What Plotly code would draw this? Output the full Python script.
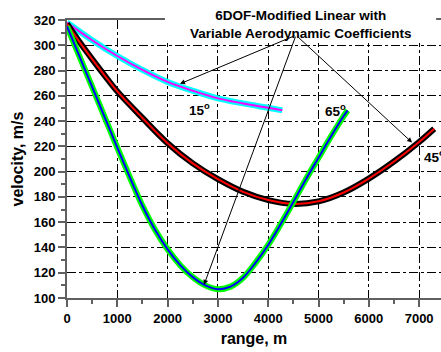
import plotly.graph_objects as go

# 15 degree
x15 = [0, 500, 1000, 1500, 2000, 2500, 3000, 3500, 4000, 4280]
v15 = [318, 304, 291.5, 280.5, 271, 264, 258, 254, 250.5, 248.5]
# 45 degree
x45 = [0, 250, 500, 750, 1000, 1500, 2000, 2500, 3000, 3500, 4000, 4500, 5000, 5500, 6000, 6500, 7000, 7300]
v45 = [317, 302.5, 289, 276, 263.5, 242.5, 222.5, 206.5, 194, 184, 177.5, 174.5, 176.5, 183.5, 194.5, 208, 223.5, 234]
# 65 degree
x65 = [0, 250, 500, 750, 1000, 1250, 1500, 1750, 2000, 2250, 2500, 2750, 3000,
       3250, 3500, 3750, 4000, 4250, 4500, 4750, 5000, 5250, 5500, 5580]
v65 = [315, 291, 267, 243, 219, 195.5, 173, 154, 138.5, 126, 116.5, 110, 107,
       109, 116, 128, 142, 158.5, 176, 194, 211, 228, 244, 248.5]

xticks = [0, 1000, 2000, 3000, 4000, 5000, 6000, 7000]
yticks = [100, 120, 140, 160, 180, 200, 220, 240, 260, 280, 300, 320]

FONT = "Liberation Sans, Arial, sans-serif"

fig = go.Figure()
for xs, vs, outer, inner in [(x15, v15, "#00FFFF", "#FF00FF"),
                             (x45, v45, "#000000", "#FF0000"),
                             (x65, v65, "#00FF00", "#0000FF")]:
    fig.add_trace(go.Scatter(x=xs, y=vs, mode="lines",
                             line=dict(color=outer, width=6, shape="spline", smoothing=1),
                             showlegend=False, hoverinfo="skip"))
    fig.add_trace(go.Scatter(x=xs, y=vs, mode="lines",
                             line=dict(color=inner, width=2, shape="spline", smoothing=1),
                             showlegend=False, hoverinfo="skip"))

axis_common = dict(showgrid=True, gridcolor="black", griddash="dashdot", gridwidth=1,
                   zeroline=False, showline=True, linecolor="#606060", linewidth=2,
                   ticks="outside", ticklen=7, tickwidth=2, tickcolor="#606060",
                   tickfont=dict(family=FONT, size=13, color="black", weight="bold"))

fig.update_xaxes(range=[0, 7435], tickvals=xticks, ticktext=[str(t) for t in xticks],
                 minor=dict(dtick=500, ticks="outside", ticklen=4, tickwidth=2, tickcolor="#606060", showgrid=False),
                 mirror=True,
                 title=dict(text="range, m", font=dict(family=FONT, size=16, color="black", weight="bold"),
                            standoff=8),
                 **axis_common)
fig.update_yaxes(range=[100, 320], tickvals=yticks, ticktext=[str(t) for t in yticks],
                 minor=dict(dtick=10, ticks="outside", ticklen=4, tickwidth=2, tickcolor="#606060", showgrid=False),
                 mirror=False,
                 title=dict(text="velocity, m/s", font=dict(family=FONT, size=16, color="black", weight="bold"),
                            standoff=6),
                 **axis_common)

# white box behind title text
fig.add_shape(type="rect", xref="paper", yref="paper", x0=0.262, x1=0.987, y0=0.917, y1=1.1,
              fillcolor="white", line=dict(width=0), layer="above")

fig.add_annotation(xref="paper", yref="paper", x=0.626, y=0.9856, xanchor="center", yanchor="middle",
                   text="6DOF-Modified Linear with<br>Variable Aerodynamic Coefficients", showarrow=False,
                   font=dict(family=FONT, size=13.5, color="black", weight="bold"))

apex = (4553, 308)
for tx, ty in [(2247, 269.5), (2724, 110.5), (6860, 223)]:
    fig.add_annotation(x=tx, y=ty, ax=apex[0], ay=apex[1], axref="x", ayref="y", xref="x", yref="y",
                       text="", showarrow=True, arrowhead=2, arrowsize=1, arrowwidth=1, arrowcolor="black")

for txt, x, y in [("15<sup>o</sup>", 2386, 249.5), ("65<sup>o</sup>", 5090, 249), ("45<sup>o</sup>", 7052, 212)]:
    fig.add_annotation(x=x, y=y, text=txt, showarrow=False, xanchor="left", yanchor="middle",
                       font=dict(family=FONT, size=13.5, color="black", weight="bold"))

fig.update_layout(width=441, height=352, margin=dict(l=67, r=0, t=20, b=54),
                  plot_bgcolor="white", paper_bgcolor="white")

fig.write_html("out.html")
